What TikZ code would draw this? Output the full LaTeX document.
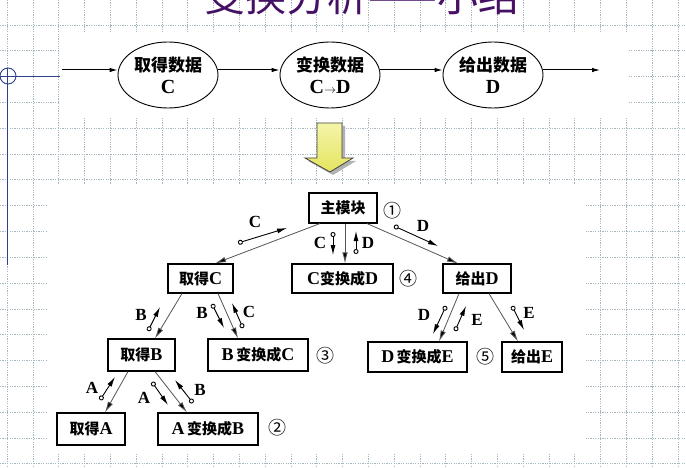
\documentclass[tikz,border=0pt]{standalone}
\usepackage{fontspec}
\setmainfont{Liberation Serif}
\newfontfamily\cjk{Noto Sans CJK SC}
\usetikzlibrary{arrows.meta,calc,shapes.geometric}
\newcommand\zh[1]{{\cjk #1}}
\newcommand\lt[1]{{\fontsize{18}{18}\selectfont #1}}
\newcommand\ltb[1]{{\fontsize{20}{20}\selectfont #1}}
\definecolor{gridc}{RGB}{165,182,190}
\definecolor{titlec}{RGB}{70,16,100}
\definecolor{bluec}{RGB}{45,65,140}
\definecolor{edgec}{RGB}{85,85,85}
\definecolor{yelc}{RGB}{228,228,95}
\definecolor{yell}{RGB}{245,245,170}
\begin{document}
\begin{tikzpicture}[x=1pt,y=-1pt,
 gridline/.style={draw=gridc, line width=0.6pt, dash pattern=on 1.2pt off 1.2pt},
 box/.style={draw=black, line width=1.1pt, fill=white, inner sep=0pt, minimum height=30pt, font=\fontsize{15}{18}\selectfont\bfseries},
 oval/.style={ellipse, draw=black, line width=0.9pt, minimum width=100pt, minimum height=66pt, inner sep=0pt, align=center, font=\fontsize{17}{22}\selectfont\bfseries},
 flow/.style={line width=1pt, -{Latex[length=8pt,width=4.5pt]}},
 edge/.style={draw=edgec, line width=0.8pt, -{Latex[length=11pt,width=5.5pt,fill=black]}},
 couple/.style={line width=0.9pt, {Circle[open,length=5pt,width=5pt]}-{Latex[length=10pt,width=5pt]}},
 lab/.style={font=\fontsize{17}{18}\selectfont\bfseries, inner sep=0pt},
 num/.style={font=\cjk\fontsize{18}{18}\selectfont, inner sep=0pt},
 blueline/.style={draw=bluec, line width=0.9pt}]
\useasboundingbox (0,0) rectangle (686,468);
\fill[white] (0,0) rectangle (686,468);
% grid
\foreach \k in {0,...,26} {\draw[gridline] ({7+25.8*\k},0) -- ({7+25.8*\k},468);}
\foreach \k in {0,...,17} {\draw[gridline] (0,{25+25.8*\k}) -- (686,{25+25.8*\k});}
% white backgrounds of pasted pictures
\fill[white] (60,33) rectangle (628,118);
\fill[white] (47,184) rectangle (585,453);
% title
\node[anchor=base, font=\cjk\fontsize{41}{41}\selectfont, text=titlec, inner sep=0pt] (title) at (362,12) {变换分析——小结};
% blue crosshair
\draw[blueline] (8,76) circle (8);
\draw[blueline] (0,76) -- (60,76);
\draw[blueline] (7,68) -- (7,265);
% top row
\node[oval] (e1) at (168,75) {\zh{取得数据}\\\ltb{C}};
\node[oval] (e2) at (330,75) {\zh{变换数据}\\\ltb{C{\normalfont\fontsize{12}{12}\selectfont$\rightarrow$}D}};
\node[oval] (e3) at (493,75) {\zh{给出数据}\\\ltb{D}};
\coordinate (in) at (62,70);
\coordinate (out) at (600,70);
\draw[flow] (in) -- ([yshift=5pt]e1.west);
\draw[flow] ([yshift=5pt]e1.east) -- ([yshift=5pt]e2.west);
\draw[flow] ([yshift=5pt]e2.east) -- ([yshift=5pt]e3.west);
\draw[flow] ([yshift=5pt]e3.east) -- (out);
% yellow arrow
\fill[black!30] (320,126) -- (345,126) -- (345,161) -- (356,161) -- (333,175) -- (308,161) -- (320,161) -- cycle;
\draw[draw=black!75, line width=0.8pt, top color=yell, bottom color=yelc] (317,123) -- (342,123) -- (342,158) -- (353,158) -- (330,172) -- (305,158) -- (317,158) -- cycle;
% tree nodes
\node[box, minimum width=68pt] (main) at (343,208) {\zh{主模块}};
\node[box, minimum width=65pt, minimum height=29pt] (tc) at (200.5,278.5) {\zh{取得}\lt{C}};
\node[box, minimum width=101pt, minimum height=29pt] (cd) at (342.5,278.5) {\lt{C}\zh{变换成}\lt{D}};
\node[box, minimum width=68pt, minimum height=29pt] (gd) at (477,278.5) {\zh{给出}\lt{D}};
\node[box, minimum width=67pt, minimum height=32pt] (tb) at (141.5,355) {\zh{取得}\lt{B}};
\node[box, minimum width=100pt, minimum height=32pt] (bc) at (258,355) {\lt{B}\,\zh{变换成}\lt{C}};
\node[box, minimum width=68pt, minimum height=32pt] (ta) at (91,429) {\zh{取得}\lt{A}};
\node[box, minimum width=100pt, minimum height=32pt] (ab) at (208,429) {\lt{A}\,\zh{变换成}\lt{B}};
\node[box, minimum width=99pt] (de) at (417.5,357) {\lt{D}\,\zh{变换成}\lt{E}};
\node[box, minimum width=60pt] (ge) at (532,357) {\zh{给出}\lt{E}};
% numbers
\node[num] (n1) at (392,211) {①};
\node[num] (n4) at (408,279) {④};
\node[num] (n3) at (325,356) {③};
\node[num] (n2) at (277,428) {②};
\node[num] (n5) at (485,357) {⑤};
% tree edges
\draw[edge] ([xshift=-23pt]main.south) -- ([xshift=14.5pt]tc.north);
\draw[edge] ([xshift=2pt]main.south) -- ([xshift=2.5pt]cd.north);
\draw[edge] ([xshift=24pt]main.south) -- ([xshift=-19pt]gd.north);
\draw[edge] ([xshift=-18.5pt]tc.south) -- ([xshift=13.5pt]tb.north);
\draw[edge] ([xshift=17.5pt]tc.south) -- ([xshift=-20pt]bc.north);
\draw[edge] ([xshift=-13.5pt]tb.south) -- ([xshift=14pt]ta.north);
\draw[edge] ([xshift=13.5pt]tb.south) -- ([xshift=-21pt]ab.north);
\draw[edge] ([xshift=-18pt]gd.south) -- ([xshift=21.5pt]de.north);
\draw[edge] ([xshift=12pt]gd.south) -- ([xshift=-14pt]ge.north);
% data couples
\coordinate (a1) at (238,243); \coordinate (b1) at (287,228);
\draw[couple] (a1) -- (b1); \node[lab] (l1) at (255,222) {C};
\coordinate (a2) at (333,232); \coordinate (b2) at (333,255);
\draw[couple] (a2) -- (b2); \node[lab] (l2) at (320,243) {C};
\coordinate (a3) at (356,254); \coordinate (b3) at (356,231);
\draw[couple] (a3) -- (b3); \node[lab] (l3) at (368,243) {D};
\coordinate (a4) at (394,226); \coordinate (b4) at (438,246);
\draw[couple] (a4) -- (b4); \node[lab] (l4) at (423,226) {D};
\coordinate (a5) at (148,331); \coordinate (b5) at (160,307);
\draw[couple] (a5) -- (b5); \node[lab] (l5) at (141,315) {B};
\coordinate (a6) at (212,304); \coordinate (b6) at (224,328);
\draw[couple] (a6) -- (b6); \node[lab] (l6) at (202,313) {B};
\coordinate (a7) at (243,328); \coordinate (b7) at (232,303);
\draw[couple] (a7) -- (b7); \node[lab] (l7) at (249,312) {C};
\coordinate (a8) at (100,400); \coordinate (b8) at (115,377);
\draw[couple] (a8) -- (b8); \node[lab] (l8) at (92,388) {A};
\coordinate (a9) at (152,382); \coordinate (b9) at (168,405);
\draw[couple] (a9) -- (b9); \node[lab] (l9) at (144,398) {A};
\coordinate (a10) at (193,403); \coordinate (b10) at (175,380);
\draw[couple] (a10) -- (b10); \node[lab] (l10) at (200,390) {B};
\coordinate (a11) at (446,306); \coordinate (b11) at (433,334);
\draw[couple] (a11) -- (b11); \node[lab] (l11) at (424,315) {D};
\coordinate (a12) at (455,331); \coordinate (b12) at (466,306);
\draw[couple] (a12) -- (b12); \node[lab] (l12) at (477,320) {E};
\coordinate (a13) at (512,306); \coordinate (b13) at (524,330);
\draw[couple] (a13) -- (b13); \node[lab] (l13) at (529,313) {E};
\end{tikzpicture}
\end{document}
